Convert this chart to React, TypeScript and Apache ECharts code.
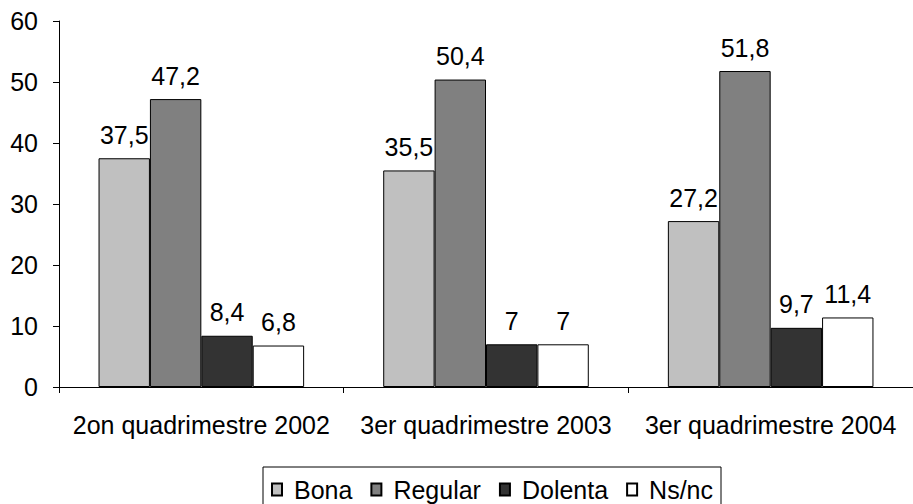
import React, { useEffect, useRef } from "react";
import * as echarts from "echarts";

const categories = ["2on quadrimestre 2002", "3er quadrimestre 2003", "3er quadrimestre 2004"];
const seriesNames = ["Bona", "Regular", "Dolenta", "Ns/nc"];
const bona = [37.5, 35.5, 27.2];
const regular = [47.2, 50.4, 51.8];
const dolenta = [8.4, 7, 9.7];
const nsnc = [6.8, 7, 11.4];
const colors = ["#c0c0c0", "#808080", "#333333", "#ffffff"];
const yTicks = { min: 0, max: 60, interval: 10 };

const FONT = "'Liberation Sans', Arial, sans-serif";
const FS = 25;

export default function App() {
  const ref = useRef<HTMLDivElement>(null);
  useEffect(() => {
    if (!ref.current) return;
    const chart = echarts.init(ref.current, undefined, { renderer: "svg" });
    const values = [bona, regular, dolenta, nsnc];
    chart.setOption({
      animation: false,
      backgroundColor: "#ffffff",
      textStyle: { fontFamily: FONT },
      grid: { left: 59, top: 21, bottom: 117, right: -10, containLabel: false },
      legend: {
        data: seriesNames,
        left: 263,
        top: 467,
        orient: "horizontal",
        icon: "rect",
        itemWidth: 10,
        itemHeight: 12,
        itemGap: 18,
        padding: [10, 8, 10, 8],
        borderColor: "#000000",
        borderWidth: 1,
        textStyle: { fontFamily: FONT, fontSize: FS, color: "#000000", padding: [0, 0, 0, 7] },
      },
      xAxis: {
        type: "category",
        data: categories,
        axisLine: { lineStyle: { color: "#000000", width: 1 } },
        axisTick: { show: true, length: 6, lineStyle: { color: "#000000" } },
        axisLabel: { fontFamily: FONT, fontSize: FS, color: "#000000", margin: 25, interval: 0 },
        splitLine: { show: false },
      },
      yAxis: {
        type: "value",
        min: yTicks.min,
        max: yTicks.max,
        interval: yTicks.interval,
        axisLine: { show: true, lineStyle: { color: "#000000", width: 1 } },
        axisTick: { show: true, length: 6, lineStyle: { color: "#000000" } },
        axisLabel: { fontFamily: FONT, fontSize: FS, color: "#000000", margin: 21 },
        splitLine: { show: false },
      },
      series: seriesNames.map((name, i) => ({
        name,
        type: "bar",
        data: values[i],
        barGap: "0%",
        barCategoryGap: "27.78%",
        itemStyle: { color: colors[i], borderColor: "#000000", borderWidth: 1 },
        label: {
          show: true,
          position: "top",
          distance: 11,
          fontFamily: FONT,
          fontSize: FS,
          color: "#000000",
          formatter: (p: any) => String(p.value).replace(".", ","),
        },
      })),
    });
    return () => chart.dispose();
  }, []);
  return <div ref={ref} style={{ width: 913, height: 504, position: "absolute", left: 0, top: 0 }} />;
}
